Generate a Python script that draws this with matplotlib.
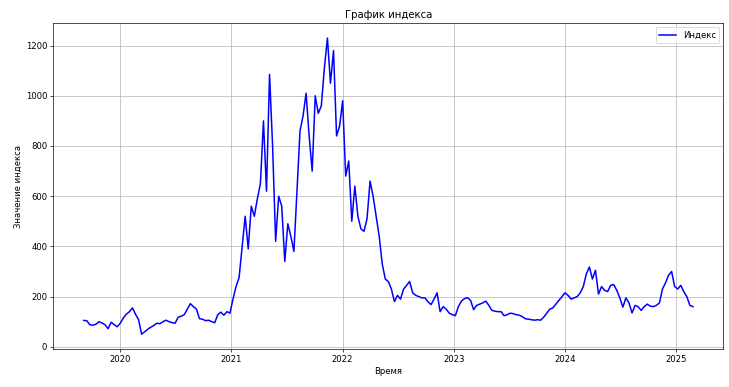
import pandas as pd
import matplotlib
matplotlib.use('Agg')
import matplotlib.pyplot as plt

# index values, one every 10 days starting 2019-09-04
start_date = '2019-09-04'
step = '10D'
index_values = [
    105, 104, 88, 86, 90, 100, 95, 88, 72, 98,
    88, 80, 94, 115, 130, 140, 155, 130, 108, 50,
    60, 70, 78, 85, 94, 92, 100, 106, 100, 96,
    94, 118, 122, 128, 150, 172, 160, 150, 112, 110,
    104, 106, 100, 96, 128, 138, 126, 140, 134, 190,
    240, 276, 400, 520, 390, 560, 520, 590, 650, 900,
    620, 1085, 800, 420, 600, 560, 340, 490, 440, 380,
    620, 860, 920, 1010, 840, 700, 1000, 930, 960, 1110,
    1230, 1050, 1180, 840, 880, 980, 680, 740, 500, 640,
    520, 470, 460, 510, 660, 600, 520, 440, 330, 270,
    260, 230, 180, 205, 190, 230, 245, 260, 215, 205,
    200, 195, 195, 180, 168, 190, 215, 140, 160, 150,
    134, 128, 124, 160, 182, 192, 196, 185, 148, 165,
    170, 175, 182, 165, 145, 142, 140, 140, 124, 128,
    134, 132, 128, 126, 120, 112, 110, 108, 106, 108,
    106, 118, 134, 150, 155, 170, 185, 200, 215, 205,
    190, 195, 200, 215, 240, 290, 318, 270, 305, 210,
    240, 225, 220, 245, 248, 225, 195, 158, 195, 175,
    135, 165, 160, 145, 160, 170, 162, 160, 165, 175,
    230, 255, 285, 300, 240, 230, 245, 220, 200, 165,
    160,
]

dates = pd.date_range(start_date, periods=len(index_values), freq=step)

fig, ax = plt.subplots(figsize=(12, 6.362), dpi=60.83)
fig.subplots_adjust(left=0.073, right=0.991, top=0.94, bottom=0.098)

ax.plot(dates, index_values, color='blue', linewidth=1.8, label='Индекс')
ax.set_title('График индекса')
ax.set_xlabel('Время')
ax.set_ylabel('Значение индекса')
ax.grid(True)
ax.legend(loc='upper right')

fig.savefig('out.png', dpi=60.83)
